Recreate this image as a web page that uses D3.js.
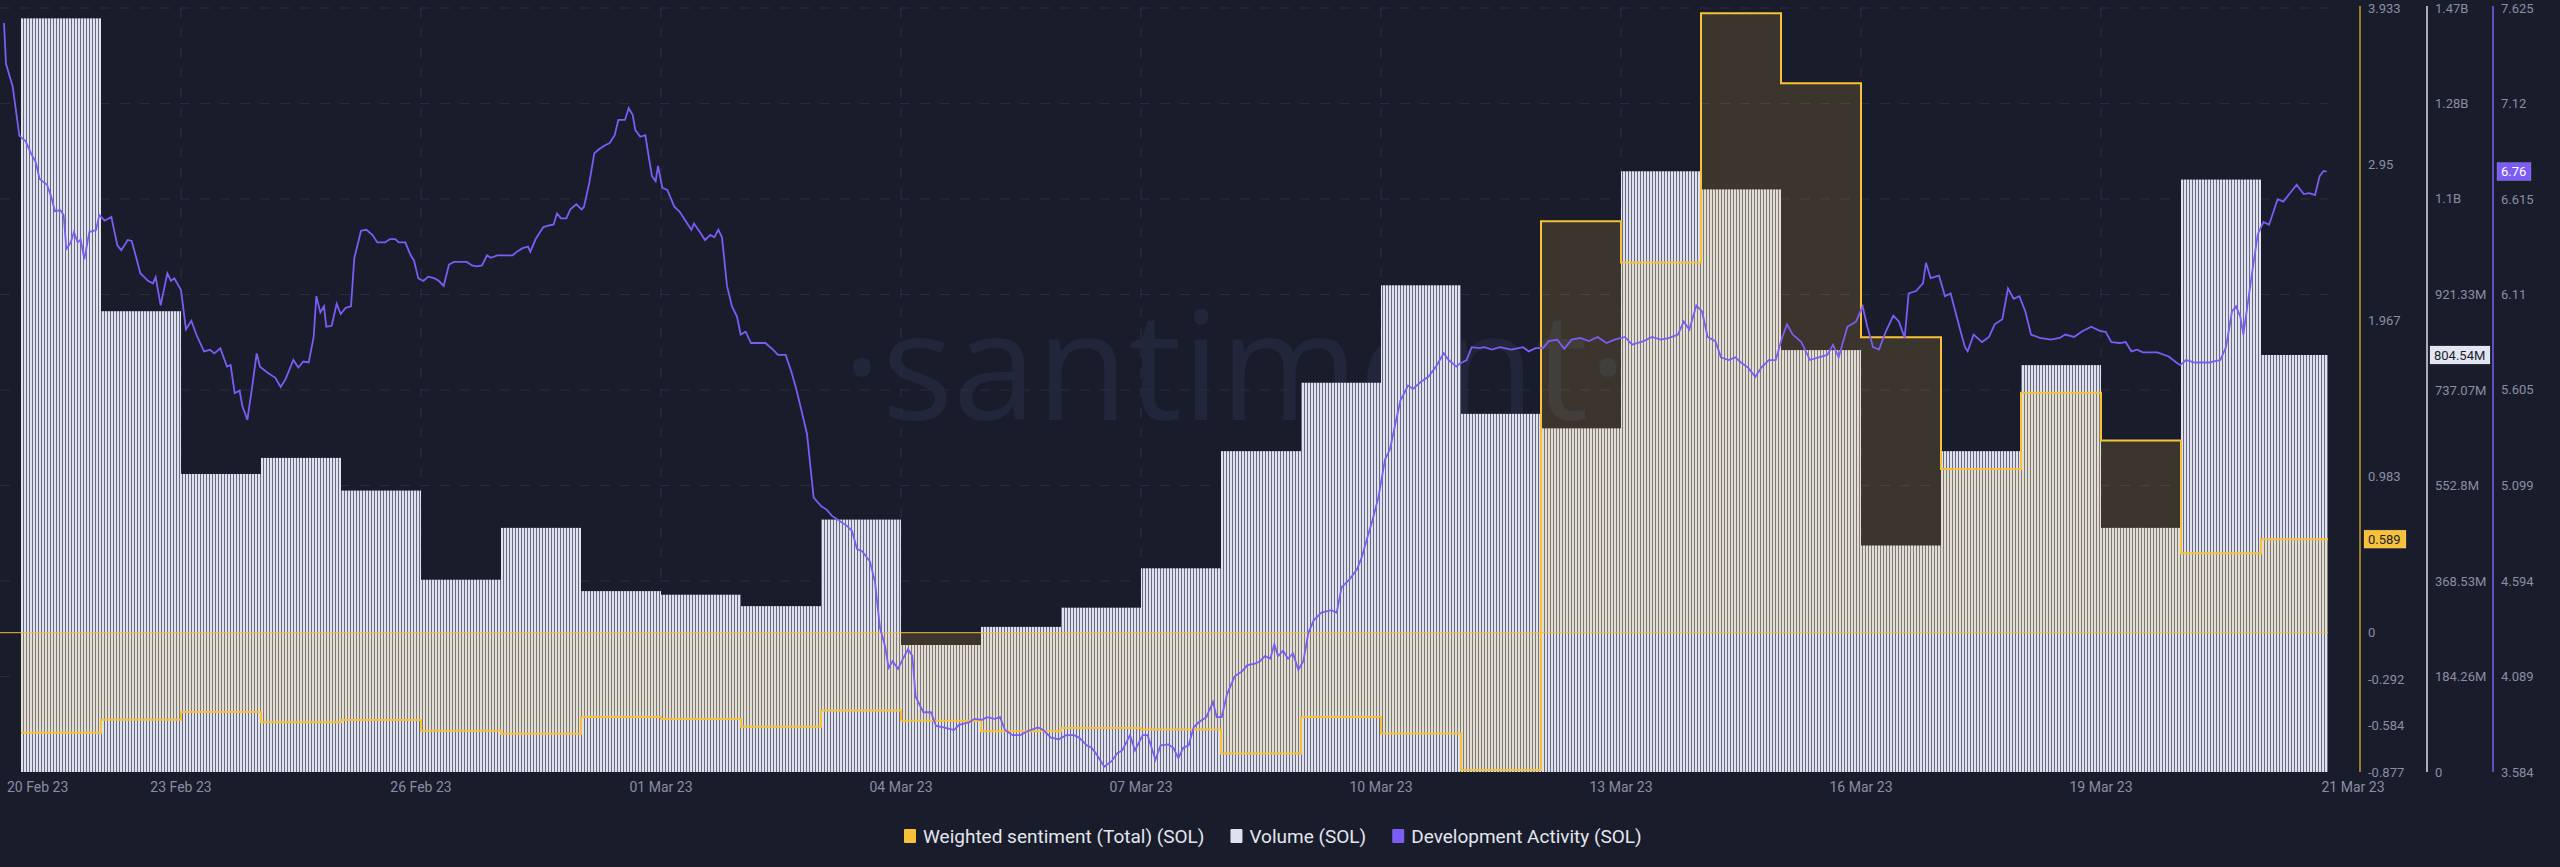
<!DOCTYPE html>
<html>
<head>
<meta charset="utf-8">
<script src="https://cdn.jsdelivr.net/npm/d3@7"></script>
<style>
  html, body { margin: 0; padding: 0; background: #191c2b; }
  svg { display: block; font-family: Roboto, "Open Sans", sans-serif; }
</style>
</head>
<body>
<svg id="chart"></svg>
<script>
// daily bars (bar start dates)
const days = d3.timeDay.range(new Date(2023, 1, 21), new Date(2023, 2, 22));

// Volume (SOL), millions
const volume = [1454, 889, 575, 606, 543, 371, 471, 349, 342, 320, 487, 245, 280, 317, 393,
  619, 751, 939, 691, 663, 1159, 1124, 814, 437, 619, 785, 471, 1143, 804.54];

// Weighted sentiment (Total)
const sentiment = [-0.63, -0.548, -0.5, -0.563, -0.55, -0.617, -0.636, -0.53, -0.543, -0.592,
  -0.49, -0.554, -0.62, -0.6, -0.61, -0.76, -0.53, -0.635, -0.865, 2.59, 2.33, 3.9, 3.46,
  1.86, 1.03, 1.51, 1.21, 0.5, 0.589];

// Development activity: [hours since 21 Feb 00:00, value]
const devActivity = [
  [-5.1,7.546],[-4.5,7.33],[-2.5,7.21],[-0.5,6.95],[1.4,6.92],[2.9,6.86],[4.4,6.81],[5.6,6.72],
  [7.8,6.69],[9,6.63],[10.2,6.55],[11.8,6.555],[12.8,6.53],[13.6,6.35],[14.8,6.38],[15.9,6.44],
  [17,6.385],[17.9,6.4],[19,6.295],[20.5,6.44],[22.5,6.45],[23.5,6.53],[25.1,6.5],[27.1,6.52],
  [28.9,6.37],[30.1,6.344],[32,6.398],[33.2,6.393],[34.3,6.322],[35.8,6.222],[38.1,6.182],
  [39.6,6.168],[40.4,6.201],[41.9,6.052],[43.9,6.222],[45,6.182],[46,6.195],[48,6.133],
  [49.5,5.925],[51.1,5.971],[52.6,5.898],[54.9,5.809],[56.7,5.817],[58,5.798],[59.8,5.825],
  [61.8,5.728],[62.9,5.736],[64.1,5.588],[65.6,5.601],[66.4,5.52],[67.9,5.447],[69.4,5.628],
  [70.7,5.798],[71.7,5.728],[74,5.696],[76.3,5.669],[77.9,5.62],[79.4,5.663],[81.7,5.763],
  [83.2,5.723],[84.7,5.755],[86.3,5.75],[87.8,5.885],[88.6,6.101],[89.8,6.015],[90.9,6.047],
  [91.6,5.939],[93.2,5.944],[94.7,6.06],[95.9,6.006],[97.4,6.039],[99,6.047],[100,6.303],
  [102,6.447],[103.6,6.452],[105.4,6.425],[106.9,6.385],[109.2,6.385],[110.7,6.403],
  [112.3,6.403],[113.3,6.385],[115.3,6.385],[116.9,6.317],[117.9,6.29],[119.2,6.195],
  [120.7,6.182],[122.2,6.204],[124.1,6.195],[125.3,6.182],[126.8,6.155],[128.4,6.268],
  [129.9,6.282],[133.7,6.282],[135.3,6.263],[136.8,6.258],[138.3,6.263],[139.8,6.317],
  [140.9,6.304],[142.9,6.317],[147.5,6.317],[149,6.339],[150.5,6.355],[152.1,6.363],
  [152.8,6.336],[154.4,6.403],[156.7,6.466],[158.2,6.474],[159.8,6.48],[160.8,6.539],
  [162,6.512],[163.6,6.512],[164.8,6.56],[166.6,6.587],[168.2,6.56],[168.9,6.574],
  [170.5,6.701],[172,6.857],[173.5,6.879],[175.1,6.898],[176.6,6.911],[178.1,6.952],
  [179.2,7.033],[181.2,7.033],[182.3,7.095],[183.5,7.06],[184.3,6.979],[185.8,6.944],
  [187.3,6.952],[188.4,6.83],[189.3,6.736],[190.4,6.709],[191.1,6.79],[192.4,6.674],
  [193.9,6.663],[196,6.574],[197.6,6.547],[199.6,6.493],[201.1,6.452],[201.9,6.485],
  [203.7,6.439],[205.2,6.398],[206.8,6.425],[208,6.412],[209.2,6.452],[210.3,6.412],
  [211.8,6.155],[213.3,6.047],[214.8,5.993],[215.9,5.898],[217.4,5.913],[219,5.853],
  [223.3,5.853],[225.6,5.818],[227.1,5.79],[229.4,5.79],[231.2,5.696],[232.5,5.615],
  [234,5.507],[235.8,5.372],[237.8,5.035],[240.1,4.989],[241.7,4.972],[243.2,4.94],
  [245.5,4.913],[247.8,4.886],[249.3,4.859],[250.8,4.764],[252.4,4.751],[254.7,4.697],
  [256.2,4.589],[257.7,4.346],[259.2,4.251],[260.3,4.135],[261.5,4.17],[263.1,4.13],
  [264.6,4.184],[266.1,4.233],[267.4,4.197],[268.4,3.982],[270.7,3.9],[273,3.9],[274.5,3.828],
  [276.8,3.82],[279.9,3.806],[281.4,3.833],[284.5,3.847],[286,3.865],[288.3,3.86],[289.8,3.874],
  [292.1,3.865],[293.7,3.874],[295.2,3.806],[297.5,3.779],[299.8,3.779],[302.1,3.801],
  [305.1,3.82],[306.7,3.806],[309,3.766],[311.3,3.757],[313.6,3.779],[315.9,3.779],
  [317.4,3.766],[319.7,3.725],[321.2,3.712],[322.7,3.676],[325,3.612],[327.3,3.644],
  [328.9,3.684],[330.4,3.698],[332.7,3.779],[334.2,3.698],[336.5,3.779],[338,3.779],
  [340.3,3.649],[341.9,3.725],[344.2,3.73],[345.7,3.712],[347.2,3.657],[348.7,3.712],
  [350.3,3.725],[351.8,3.82],[353.3,3.847],[355.6,3.874],[357.6,3.955],[358.7,3.874],
  [360.2,3.874],[361.8,3.995],[364.1,4.09],[366.3,4.116],[367.9,4.149],[370.2,4.157],
  [371.7,4.17],[373.2,4.197],[374.8,4.184],[376,4.26],[377.1,4.197],[378.6,4.225],[380.1,4.184],
  [381.6,4.211],[383.2,4.125],[384.7,4.17],[386.2,4.319],[387.8,4.386],[390.1,4.427],
  [393.1,4.44],[394.7,4.427],[396.2,4.562],[398.5,4.602],[400.8,4.656],[402.3,4.724],
  [403.8,4.818],[405.4,4.913],[407.2,5.035],[409.2,5.237],[410.7,5.291],[412.3,5.426],
  [413.8,5.547],[416.1,5.628],[417.6,5.61],[419.9,5.647],[422.2,5.674],[424.5,5.728],
  [426.8,5.799],[428.3,5.763],[430.6,5.728],[431.7,5.745],[433.7,5.763],[435.2,5.831],
  [437.5,5.826],[439,5.831],[441.3,5.818],[443.7,5.831],[447.1,5.818],[450.6,5.831],
  [452.3,5.809],[454.4,5.826],[456.6,5.826],[458.3,5.863],[460.9,5.871],[463,5.823],
  [465.2,5.871],[467.8,5.88],[470.4,5.863],[473,5.885],[475.6,5.853],[478.1,5.871],
  [481.2,5.885],[483.3,5.844],[486.8,5.863],[489.3,5.885],[491.9,5.871],[494.5,5.88],
  [497.1,5.898],[498.8,5.966],[500.5,5.925],[502.6,6.052],[504.3,6.02],[506,5.885],
  [508.3,5.863],[510,5.777],[512.2,5.763],[514.3,5.777],[516,5.75],[518.1,5.723],[520.3,5.674],
  [522.1,5.723],[524.3,5.763],[526.4,5.763],[528.4,5.885],[529.8,5.952],[531.5,5.898],
  [534.1,5.858],[536.7,5.763],[539.3,5.777],[541.9,5.79],[543.6,5.844],[545.3,5.777],
  [547.9,5.939],[550.5,5.966],[552.5,6.047],[553.9,5.939],[555.6,5.831],[557.4,5.818],
  [559.4,5.912],[561.7,5.998],[563.4,5.966],[565.1,5.88],[566.3,6.115],[568.5,6.128],
  [570.6,6.169],[571.5,6.277],[572.9,6.196],[575.4,6.209],[577.2,6.101],[578.9,6.115],
  [581.5,5.939],[583.2,5.831],[584,5.809],[585.8,5.898],[588.3,5.858],[590.4,5.885],
  [592.1,5.952],[594.4,5.979],[596.1,6.142],[597.8,6.087],[599.5,6.101],[601.3,6.02],
  [603,5.898],[605.6,5.88],[609,5.871],[611.6,5.88],[613.3,5.898],[615.9,5.885],[618.5,5.917],
  [621.1,5.939],[623.6,5.917],[625.4,5.912],[627.1,5.858],[629.7,5.853],[631.4,5.858],
  [633.1,5.809],[634.8,5.818],[636.6,5.804],[640.9,5.804],[644.3,5.782],[646.6,5.75],
  [647.8,5.736],[649.5,5.763],[652.1,5.75],[656.4,5.75],[659.8,5.763],[661.5,5.831],
  [663.3,6.02],[664.5,6.047],[665.8,5.993],[666.7,5.898],[667.9,6.047],[669.3,6.222],
  [671,6.425],[672.7,6.493],[674.4,6.479],[677,6.614],[678.7,6.601],[680.5,6.641],
  [682.7,6.69],[684.8,6.641],[686.5,6.646],[688.2,6.636],[689.6,6.736],[690.8,6.763],[691.7,6.76]
];

const sentTicks = [-0.877, -0.584, -0.292, 0, 0.983, 1.967, 2.95, 3.933];
const volTicks = [0, 184.26, 368.53, 552.8, 737.07, 921.33, 1105.6, 1289.9, 1474];
const volTickLabels = ["0", "184.26M", "368.53M", "552.8M", "737.07M", "921.33M", "1.1B", "1.28B", "1.47B"];
const devTicks = [3.584, 4.089, 4.594, 5.099, 5.605, 6.11, 6.615, 7.12, 7.625];
const dateTicks = d3.timeDay.range(new Date(2023, 1, 23), new Date(2023, 2, 20), 3);

const width = 2560, height = 867;
const plot = { left: 0, right: 2328, top: 8, bottom: 772 };
const bg = "#191c2b";

const svg = d3.select("#chart").attr("width", width).attr("height", height);
svg.append("rect").attr("width", width).attr("height", height).attr("fill", bg);

const t0 = new Date(2023, 1, 21);
const msDay = 864e5;
const x = d3.scaleTime()
  .domain([new Date(+t0 - msDay * 21 / 80), new Date(+t0 + msDay * (plot.right - 21) / 80)])
  .range([plot.left, plot.right]);
const ySent = d3.scaleLinear().domain([-0.877, 3.933]).range([plot.bottom, plot.top]);
const yVol = d3.scaleLinear().domain([0, 1474]).range([plot.bottom, plot.top]);
const yDev = d3.scaleLinear().domain([3.584, 7.625]).range([plot.bottom, plot.top]);

const defs = svg.append("defs");
const pat = defs.append("pattern").attr("id", "stripes").attr("patternUnits", "userSpaceOnUse")
  .attr("width", 3).attr("height", 10);
pat.append("rect").attr("width", 3).attr("height", 10).attr("fill", "#666b80");
pat.append("rect").attr("width", 2).attr("height", 10).attr("fill", "#dfe2ee");
defs.append("clipPath").attr("id", "plotClip").append("rect")
  .attr("x", plot.left).attr("y", 0).attr("width", plot.right - plot.left).attr("height", plot.bottom);

// watermark
svg.append("text").attr("x", 1235).attr("y", 420).attr("text-anchor", "middle")
  .attr("font-size", 150).attr("font-family", "'Open Sans', sans-serif")
  .attr("fill", "#22263a").text("·santiment·");

// grid
const grid = svg.append("g").attr("stroke", "#2a2e41").attr("stroke-dasharray", "10,10");
grid.selectAll("line.h").data(volTicks.slice(1)).join("line")
  .attr("x1", plot.left).attr("x2", plot.right)
  .attr("y1", d => yVol(d)).attr("y2", d => yVol(d));
grid.selectAll("line.v").data(dateTicks).join("line")
  .attr("x1", d => x(d)).attr("x2", d => x(d))
  .attr("y1", plot.top).attr("y2", plot.bottom);

const g = svg.append("g").attr("clip-path", "url(#plotClip)");
const start = x.domain()[0], end = x.domain()[1];
const barX0 = d => x(Math.max(+d, +start));
const barX1 = d => x(Math.min(+d3.timeDay.offset(d, 1), +end));

// volume bars
g.selectAll("rect.vol").data(days).join("rect")
  .attr("x", d => barX0(d))
  .attr("width", d => barX1(d) - barX0(d))
  .attr("y", (d, i) => yVol(volume[i]))
  .attr("height", (d, i) => yVol(0) - yVol(volume[i]))
  .attr("fill", "url(#stripes)");

// sentiment area + step line
const sentPts = days.map((d, i) => [Math.max(+d, +start), sentiment[i]]);
sentPts.push([+end, sentiment[sentiment.length - 1]]);
g.append("path").datum(sentPts)
  .attr("d", d3.area().curve(d3.curveStepAfter).x(d => x(d[0])).y0(ySent(0)).y1(d => ySent(d[1])))
  .attr("fill", "rgba(255,200,60,0.15)");
g.append("line").attr("x1", plot.left).attr("x2", plot.right)
  .attr("y1", ySent(0)).attr("y2", ySent(0)).attr("stroke", "#f2bd3a").attr("stroke-width", 1);
g.append("path").datum(sentPts)
  .attr("d", d3.line().curve(d3.curveStepAfter).x(d => x(d[0])).y(d => ySent(d[1])))
  .attr("fill", "none").attr("stroke", "#f7c23a").attr("stroke-width", 2);

// development activity
g.append("path").datum(devActivity)
  .attr("d", d3.line().x(d => x(+t0 + d[0] * 36e5)).y(d => yDev(d[1])))
  .attr("fill", "none").attr("stroke", "#7b5cf5").attr("stroke-width", 1.8);

// right axes
const axisColor = "#8a8ea3";
function rightAxis(xPos, lineColor, scale, ticks, labels) {
  const a = svg.append("g").attr("transform", `translate(${xPos},0)`);
  a.append("line").attr("y1", plot.top - 2).attr("y2", plot.bottom)
    .attr("stroke", lineColor).attr("stroke-width", 1.5);
  a.selectAll("text").data(ticks).join("text")
    .attr("x", 8).attr("y", d => scale(d)).attr("dy", "0.35em")
    .attr("font-size", 13).attr("fill", axisColor)
    .text((d, i) => labels ? labels[i] : d);
  return a;
}
rightAxis(2360, "#c99a2e", ySent, sentTicks);
rightAxis(2427, "#d9dce6", yVol, volTicks, volTickLabels);
rightAxis(2493, "#7b5cf5", yDev, devTicks);

// value tags
function tag(xPos, yPos, text, fill, color, w) {
  svg.append("rect").attr("x", xPos).attr("y", yPos - 9).attr("width", w).attr("height", 18)
    .attr("fill", fill).attr("stroke", "#ffffff55").attr("stroke-width", 0.5);
  svg.append("text").attr("x", xPos + 4).attr("y", yPos).attr("dy", "0.35em")
    .attr("font-size", 13).attr("fill", color).text(text);
}
tag(2364, ySent(sentiment[sentiment.length - 1]), "0.589", "#f7c23a", "#1b1e2e", 42);
tag(2430, yVol(volume[volume.length - 1]), "804.54M", "#e3e6f0", "#1b1e2e", 60);
tag(2497, yDev(devActivity[devActivity.length - 1][1]), "6.76", "#7b5cf5", "#ffffff", 34);

// x axis
const xa = svg.append("g").attr("font-size", 14).attr("fill", axisColor);
xa.selectAll("text").data(dateTicks).join("text")
  .attr("x", d => x(d)).attr("y", 792).attr("text-anchor", "middle")
  .text(d3.timeFormat("%d %b %y"));
xa.append("text").attr("x", 7).attr("y", 792).text("20 Feb 23");
xa.append("text").attr("x", 2353).attr("y", 792).attr("text-anchor", "middle").text("21 Mar 23");

// legend
const legendItems = [
  { label: "Weighted sentiment (Total) (SOL)", color: "#f7c23a" },
  { label: "Volume (SOL)", color: "#dfe2ee" },
  { label: "Development Activity (SOL)", color: "#7b5cf5" }
];
const legend = svg.append("g").attr("transform", "translate(0,836)");
let lx = 904;
legendItems.forEach(item => {
  legend.append("rect").attr("x", lx).attr("y", -7).attr("width", 12).attr("height", 14)
    .attr("rx", 1).attr("fill", item.color);
  const t = legend.append("text").attr("x", lx + 19).attr("dy", "0.35em")
    .attr("font-size", 19).attr("fill", "#e4e6ee").text(item.label);
  lx += 19 + t.node().getComputedTextLength() + 26;
});
</script>
</body>
</html>
